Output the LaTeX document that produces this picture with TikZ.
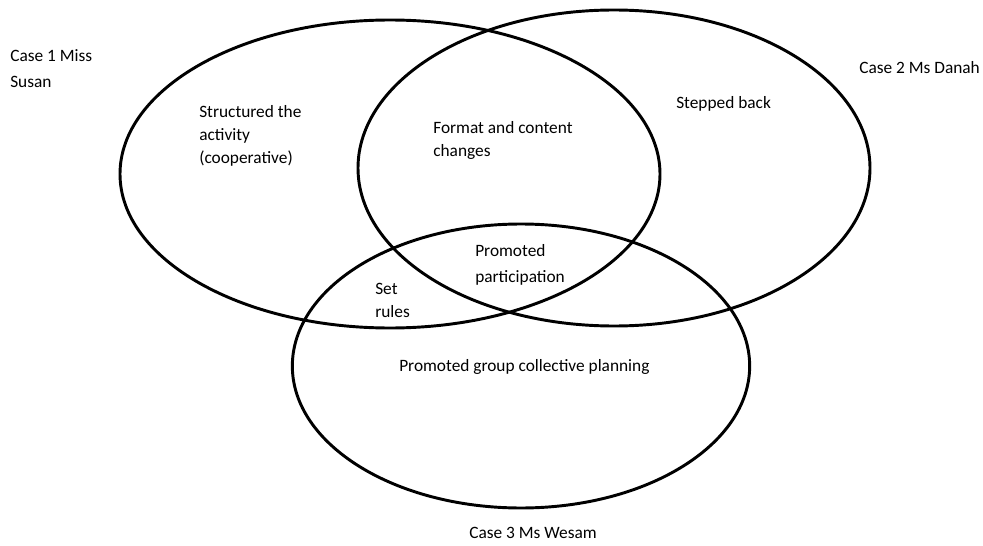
\documentclass[tikz,border=0pt]{standalone}
\usepackage{fontspec}
\setmainfont{Carlito}
\usetikzlibrary{shapes,positioning}
\tikzset{
  ring/.style  = {draw, ellipse, line width=2.2pt, inner sep=0pt},
  label text/.style = {font=\fontsize{13}{17}\selectfont, align=left, inner sep=0pt,
                   anchor=base west}
}

\begin{document}
\begin{tikzpicture}[x=0.75pt,y=-0.75pt]
\useasboundingbox (0,0) rectangle (983,546);
\node[ring, minimum width=405pt, minimum height=231pt] (susan) at (390,174) {};
\node[ring, minimum width=384pt, minimum height=237pt] (danah) at (614,168) {};
\node[ring, minimum width=343pt, minimum height=213pt] (wesam) at (521,366) {};

% multi-line labels sit on the baseline of their last line
\node[label text] (case1) at (10,87) {Case 1 Miss\\[2.5pt]Susan};
\node[label text] (case2) at (859,73) {Case 2 Ms Danah};
\node[label text] (case3) at (469,538) {Case 3 Ms Wesam};

\node[label text] (structured) at (199,163) {Structured the\\activity\\(cooperative)};
\node[label text] (format) at (433,156) {Format and content\\changes};
\node[label text] (stepped) at (676,108) {Stepped back};
\node[label text] (participation) at (475,282) {Promoted\\[2.5pt]participation};
\node[label text] (rules) at (375,317) {Set\\rules};
\node[label text] (planning) at (399,371) {Promoted group collective planning};
\end{tikzpicture}
\end{document}
